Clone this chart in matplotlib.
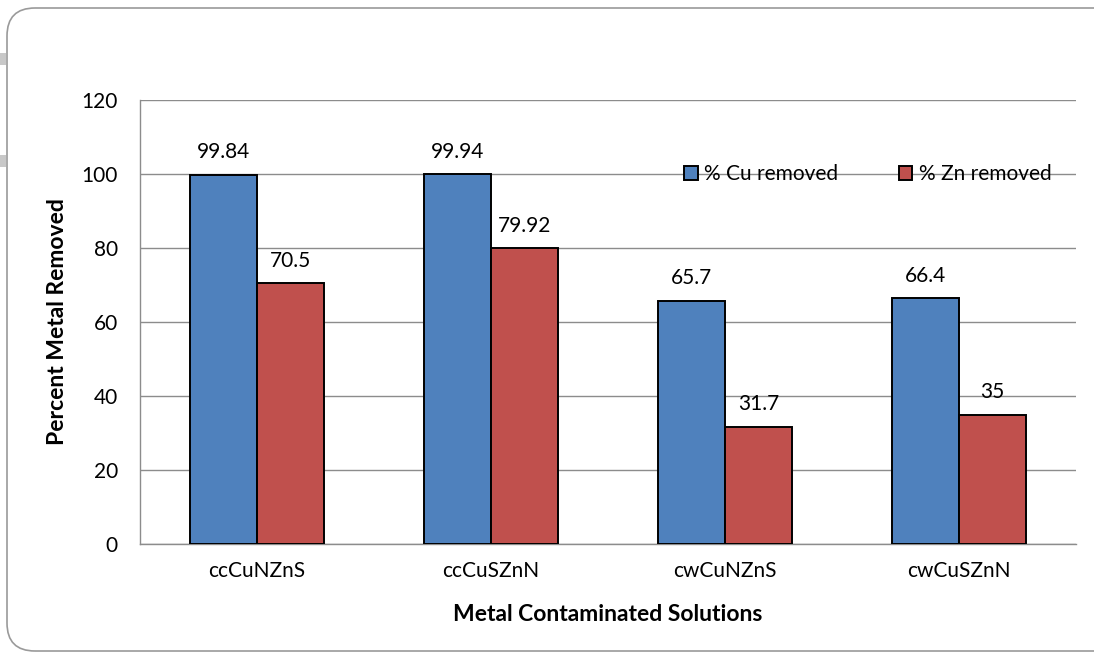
import numpy as np
import matplotlib
matplotlib.use("Agg")
import matplotlib.pyplot as plt
from matplotlib.patches import FancyBboxPatch, Rectangle

plt.rcParams['font.family'] = ['Lato', 'DejaVu Sans']

solutions = ['ccCuNZnS', 'ccCuSZnN', 'cwCuNZnS', 'cwCuSZnN']
cu_removed = [99.84, 99.94, 65.7, 66.4]
zn_removed = [70.5, 79.92, 31.7, 35]
cu_labels = ['99.84', '99.94', '65.7', '66.4']
zn_labels = ['70.5', '79.92', '31.7', '35']

W, H = 1094, 653
fig = plt.figure(figsize=(W / 100, H / 100), dpi=100)

# background layer in pixel units (y measured up from the bottom)
bg = fig.add_axes([0, 0, 1, 1])
bg.set_xlim(0, W)
bg.set_ylim(0, H)
bg.axis('off')
bg.add_patch(FancyBboxPatch((7, 2), 1120, H - 8 - 2,
                            boxstyle="round,pad=0,rounding_size=28",
                            facecolor='none', edgecolor='#9a9a9a', lw=1.2,
                            clip_on=False))
for yy in [59, 161]:
    bg.add_patch(Rectangle((0, H - yy - 6), 6, 12, facecolor='#c8c8c8',
                           edgecolor='none'))

ax = fig.add_axes([140 / W, 109 / H, (1076 - 140) / W, (544 - 100) / H])

x = np.arange(len(solutions))
w = 0.286
b1 = ax.bar(x - w / 2, cu_removed, w, color='#4F81BD', edgecolor='black',
            lw=1.4, label='% Cu removed', zorder=3)
b2 = ax.bar(x + w / 2, zn_removed, w, color='#C0504D', edgecolor='black',
            lw=1.4, label='% Zn removed', zorder=3)

for bars, labs in [(b1, cu_labels), (b2, zn_labels)]:
    for r, lab in zip(bars, labs):
        ax.annotate(lab, (r.get_x() + r.get_width() / 2, r.get_height()),
                    xytext=(0, 9), textcoords='offset points',
                    ha='center', va='bottom', fontsize=15, color='black')

ax.set_xlim(-0.5, 3.5)
ax.set_ylim(0, 120)
ax.set_yticks(range(0, 121, 20))
ax.set_xticks(x)
ax.set_xticklabels(solutions)
ax.tick_params(length=0, labelsize=15)
ax.tick_params(axis='x', pad=12)
ax.tick_params(axis='y', pad=16)
ax.yaxis.grid(True, color='#8c8c8c', lw=1, zorder=0)
ax.set_axisbelow(True)
for s in ['top', 'right']:
    ax.spines[s].set_visible(False)
for s in ['left', 'bottom']:
    ax.spines[s].set_color('#8c8c8c')
    ax.spines[s].set_linewidth(1)

ax.set_ylabel('Percent Metal Removed', fontsize=16.5, fontweight='bold', labelpad=10)
ax.set_xlabel('Metal Contaminated Solutions', fontsize=16.5, fontweight='bold', labelpad=17)

ax.legend(loc='center right', bbox_to_anchor=(0.983, 0.833), ncol=2, frameon=False,
          fontsize=15, handlelength=0.63, handleheight=0.63, handletextpad=0.33,
          columnspacing=2.9, borderaxespad=0)

fig.savefig('out.png', dpi=100)
